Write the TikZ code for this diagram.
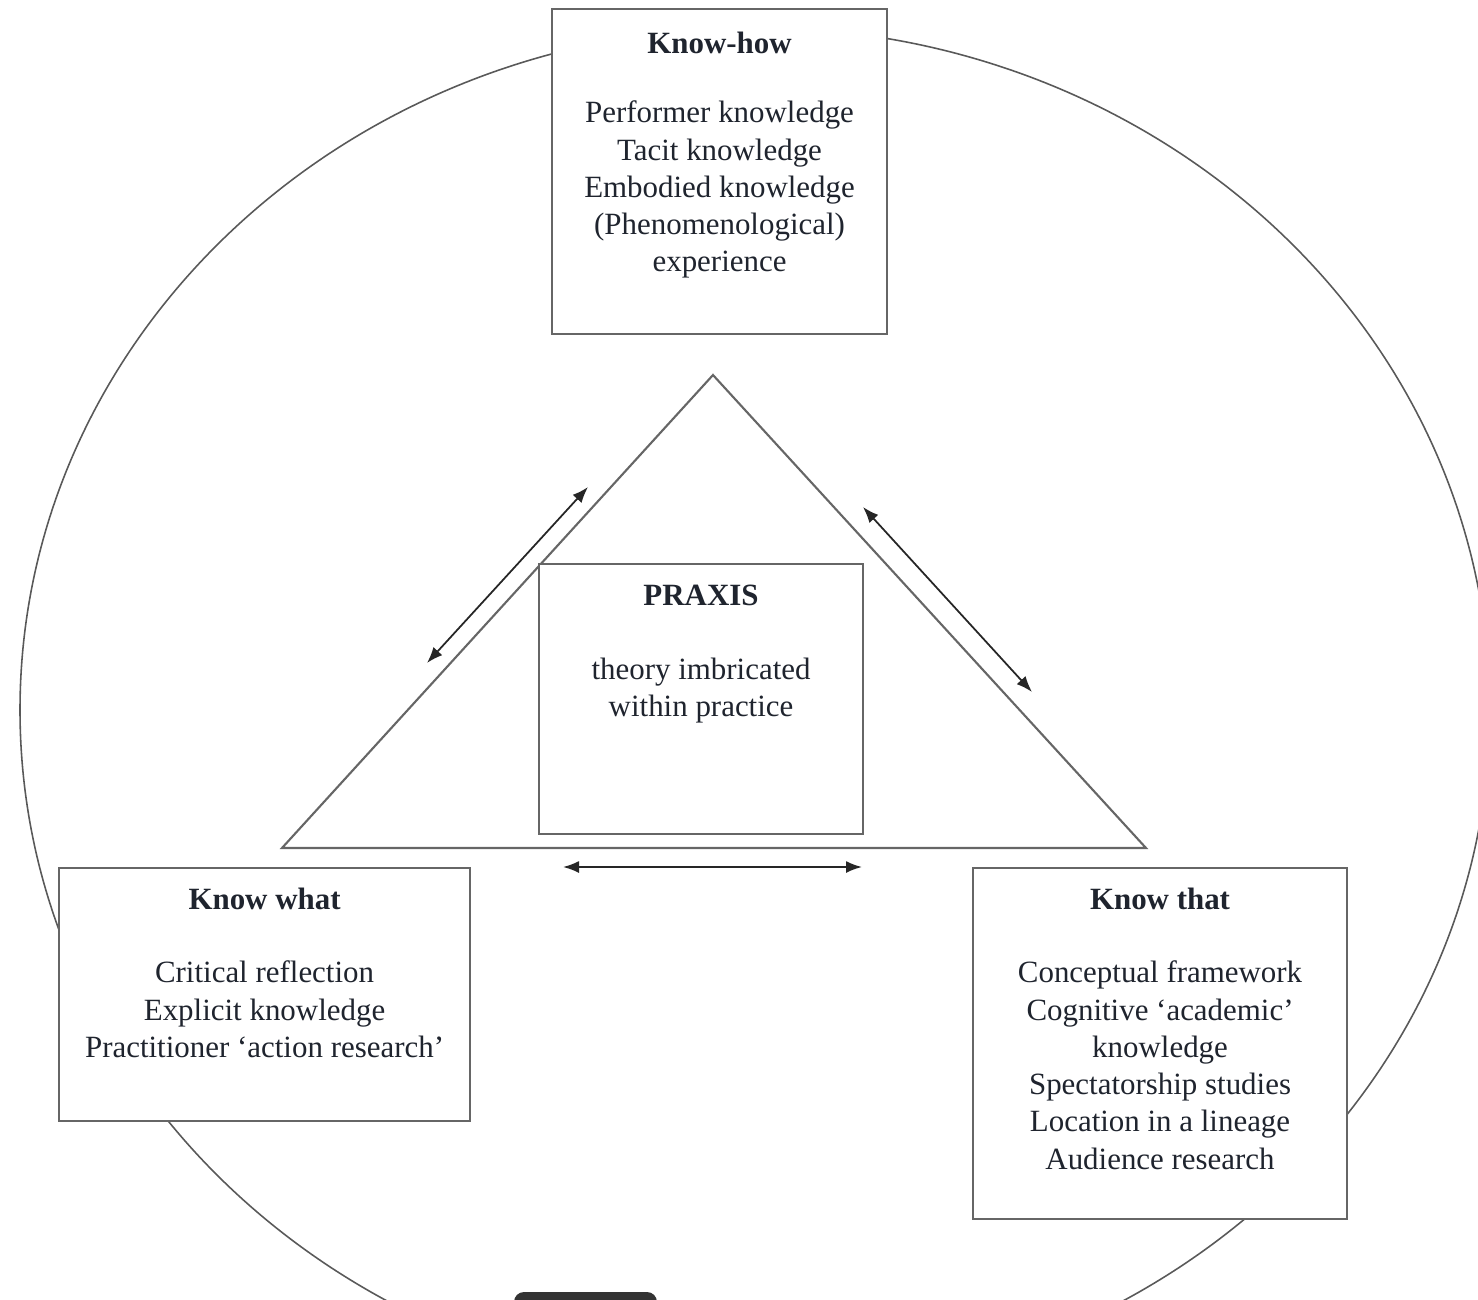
\documentclass[tikz,border=0pt]{standalone}
\usepackage{fontspec}
\setmainfont{Liberation Serif}
\usepackage{tikz}
\usetikzlibrary{arrows.meta,positioning}
\definecolor{inkgray}{rgb}{0.12,0.14,0.18}
\tikzstyle{kbox}=[draw=black!60,line width=0.6pt,fill=white,inner sep=0pt,anchor=north west]
\tikzstyle{ktext}=[align=center,inner sep=0pt,text=inkgray,font=\fontsize{8.8}{10.6}\selectfont]
\tikzstyle{twoway}=[>={Latex[length=1.6mm,width=1.2mm]},<->,line width=0.5pt,draw=black!85]
\tikzstyle{ring}=[draw=black!65,line width=0.45pt]
\tikzstyle{tri}=[draw=black!60,line width=0.6pt]

\begin{document}
\begin{tikzpicture}[x=0.1mm,y=-0.1mm]
\useasboundingbox (0,0) rectangle (1478,1300);
\clip (0,0) rectangle (1478,1300);
\draw[ring] (755,710) ellipse [x radius=73.5mm,y radius=68.25mm];

\coordinate (apex) at (713,375);
\coordinate (baseL) at (282,848);
\coordinate (baseR) at (1146,848);
\draw[tri] (apex) -- (baseL) -- (baseR) -- cycle;

\node[kbox,minimum width=33.5mm,minimum height=32.5mm] (knowhow) at (551,8) {};
\node[kbox,minimum width=32.4mm,minimum height=27mm] (praxis) at (538,563) {};
\node[kbox,minimum width=41.1mm,minimum height=25.3mm] (knowwhat) at (58,867) {};
\node[kbox,minimum width=37.4mm,minimum height=35.1mm] (knowthat) at (972,867) {};

\node[ktext,below=2.3mm of knowhow.north] (knowhowtxt) {\textbf{Know-how}\\[9.2pt]
  Performer knowledge\\ Tacit knowledge\\ Embodied knowledge\\
  (Phenomenological)\\ experience};
\node[ktext,below=2.1mm of praxis.north] (praxistxt) {\textbf{PRAXIS}\\[10.6pt]
  theory imbricated\\ within practice};
\node[ktext,below=2mm of knowwhat.north] (knowwhattxt) {\textbf{Know what}\\[10.4pt]
  Critical reflection\\ Explicit knowledge\\ Practitioner `action research'};
\node[ktext,below=2mm of knowthat.north] (knowthattxt) {\textbf{Know that}\\[10.4pt]
  Conceptual framework\\ Cognitive `academic'\\ knowledge\\
  Spectatorship studies\\ Location in a lineage\\ Audience research};

\coordinate (leftlo) at (427,663);
\coordinate (lefthi) at (588,487);
\coordinate (righthi) at (863,507);
\coordinate (rightlo) at (1032,692);
\coordinate (botL) at (563,867);
\coordinate (botR) at (862,867);
\draw[twoway] (leftlo) -- (lefthi);
\draw[twoway] (righthi) -- (rightlo);
\draw[twoway] (botL) -- (botR);

\fill[black!80,rounded corners=1mm] (514,1292) rectangle (657,1340);
\end{tikzpicture}
\end{document}
